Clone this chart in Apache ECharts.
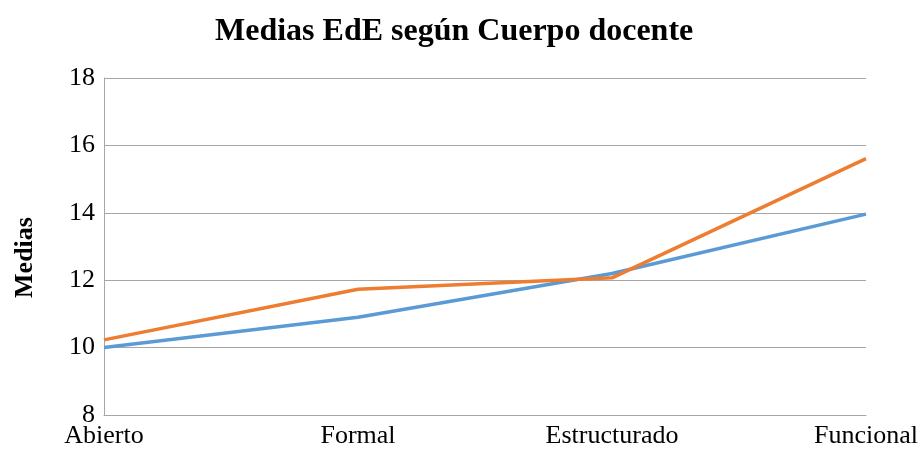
<!DOCTYPE html>
<html>
<head>
<meta charset="utf-8">
<script src="https://cdn.jsdelivr.net/npm/echarts@6/dist/echarts.min.js"></script>
<style>html,body{margin:0;padding:0;background:#fff}#c{width:921px;height:449px}</style>
</head>
<body>
<div id="c"></div>
<script>
const categories = ["Abierto", "Formal", "Estructurado", "Funcional"];
const serieAzul = [10.0, 10.9, 12.2, 13.96];
const serieNaranja = [10.23, 11.73, 12.07, 15.61];
const yMin = 8, yMax = 18, yInterval = 2;

const font = "'Liberation Serif', 'Times New Roman', serif";
const chart = echarts.init(document.getElementById('c'), null, {renderer: 'canvas'});
chart.setOption({
  animation: false,
  title: {
    text: 'Medias EdE según Cuerpo docente',
    left: 210, top: 11,
    textStyle: {fontFamily: font, fontWeight: 'bold', fontSize: 32, color: '#000'}
  },
  grid: {left: 104, right: 55, top: 78, bottom: 33, containLabel: false},
  xAxis: {
    type: 'category', data: categories, boundaryGap: false,
    axisLine: {show: true, lineStyle: {color: '#a6a6a6', width: 1}},
    axisTick: {show: false},
    axisLabel: {fontFamily: font, fontSize: 26, color: '#000', margin: 8, interval: 0},
    splitLine: {show: false}
  },
  yAxis: {
    type: 'value', min: yMin, max: yMax, interval: yInterval,
    name: 'Medias', nameLocation: 'middle', nameGap: 66, nameRotate: 90,
    nameTextStyle: {fontFamily: font, fontWeight: 'bold', fontSize: 26, color: '#000', padding: [0, 22, 0, 0]},
    axisLine: {show: true, lineStyle: {color: '#a6a6a6', width: 1}},
    axisTick: {show: false},
    axisLabel: {fontFamily: font, fontSize: 26, color: '#000', margin: 9},
    splitLine: {show: true, lineStyle: {color: '#a6a6a6', width: 1}}
  },
  series: [
    {type: 'line', data: serieAzul, symbol: 'none', lineStyle: {color: '#5b9bd5', width: 3.5}, itemStyle: {color: '#5b9bd5'}},
    {type: 'line', data: serieNaranja, symbol: 'none', lineStyle: {color: '#ed7d31', width: 3.5}, itemStyle: {color: '#ed7d31'}}
  ]
});
</script>
</body>
</html>
